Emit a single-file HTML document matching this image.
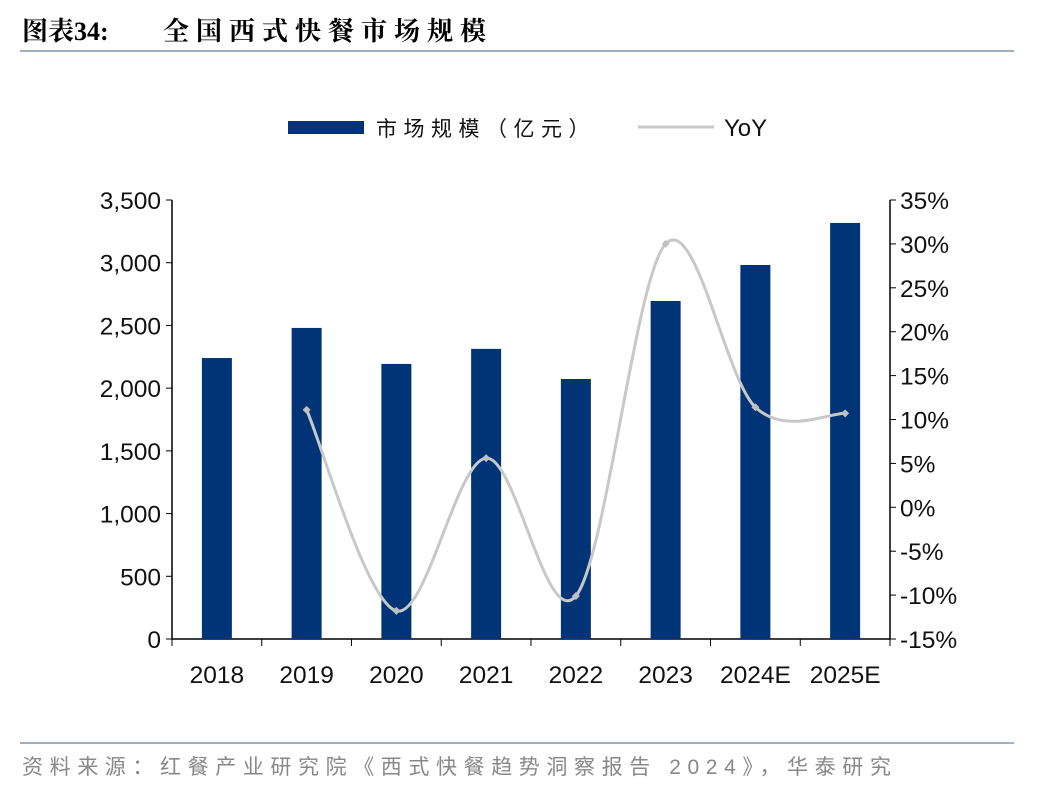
<!DOCTYPE html>
<html><head><meta charset="utf-8"><style>
body{margin:0;background:#fff;width:1048px;height:792px;overflow:hidden;font-family:"Liberation Sans","Noto Sans CJK SC",sans-serif}
</style></head><body>
<svg width="1048" height="792" xmlns="http://www.w3.org/2000/svg">
<text x="22" y="40" font-size="26" font-weight="bold" font-family="'Liberation Serif','Noto Serif CJK SC',serif" fill="#000"><tspan>图表34:</tspan><tspan x="163" letter-spacing="7">全国西式快餐市场规模</tspan></text>
<line x1="20" y1="51" x2="1014" y2="51" stroke="#9fb0c4" stroke-width="2"/>
<g>
<rect x="288" y="121" width="76" height="13" fill="#003477"/>
<text x="376" y="136" font-size="21" letter-spacing="6.5" fill="#111">市场规模（亿元）</text>
<line x1="638" y1="127" x2="714" y2="127" stroke="#c8c8c8" stroke-width="3"/>
<text x="724" y="136" font-size="24" fill="#111">YoY</text>
</g>
<g id="axes"></g><g id="bars"></g><g id="line"></g>
<line x1="20" y1="743" x2="1014" y2="743" stroke="#9fb0c4" stroke-width="2"/>
<text x="22" y="774" font-size="21" fill="#888" letter-spacing="6.6">资料来源：红餐产业研究院《西式快餐趋势洞察报告 2024》，华泰研究</text>
</svg>
<script>
const categories=["2018","2019","2020","2021","2022","2023","2024E","2025E"];
const sizeValues=[2240,2480,2193,2313,2073,2695,2982,3317];
const yoyValues=[null,11.1,-11.8,5.6,-10.1,30.0,11.4,10.7];
const leftTicks=["0","500","1,000","1,500","2,000","2,500","3,000","3,500"];
const rightTicks=["-15%","-10%","-5%","0%","5%","10%","15%","20%","25%","30%","35%"];
const NS="http://www.w3.org/2000/svg";
const X0=172,X1=890,Y0=639,Y1=200;
const band=(X1-X0)/categories.length;
const xc=i=>X0+band*(i+0.5);
const yl=v=>Y0-(v/3500)*(Y0-Y1);
const yr=v=>Y0-((v+15)/50)*(Y0-Y1);
function mk(tag,attrs,parent,txt){const e=document.createElementNS(NS,tag);for(const k in attrs)e.setAttribute(k,attrs[k]);if(txt!=null)e.textContent=txt;document.getElementById(parent).appendChild(e);return e;}
let e;
e=mk('line',{x1:X0,y1:Y1,x2:X0,y2:Y0,stroke:'#000','stroke-width':1.5},'axes');


e=mk('line',{x1:X1,y1:Y1,x2:X1,y2:Y0,stroke:'#000','stroke-width':1.5},'axes');


e=mk('line',{x1:X0,y1:Y0,x2:X1,y2:Y0,stroke:'#000','stroke-width':1.5},'axes');


leftTicks.forEach((t,i)=>{const y=yl(i*500);
mk('line',{x1:X0-6,y1:y,x2:X0,y2:y,stroke:'#000'},'axes');
e=mk('text',{x:X0-11,y:y+9,'font-size':24.5,'text-anchor':'end',fill:'#111'},'axes',t);

});
rightTicks.forEach((t,i)=>{const y=yr(-15+i*5);
mk('line',{x1:X1,y1:y,x2:X1+6,y2:y,stroke:'#000'},'axes');
e=mk('text',{x:X1+10,y:y+9,'font-size':24.5,'text-anchor':'start',fill:'#111'},'axes',t);

});
for(let i=0;i<=categories.length;i++){const x=X0+band*i;mk('line',{x1:x,y1:Y0,x2:x,y2:Y0+7,stroke:'#000'},'axes');}
categories.forEach((c,i)=>{
e=mk('text',{x:xc(i),y:683,'font-size':24.5,'text-anchor':'middle',fill:'#111'},'axes',c);


e=mk('rect',{x:xc(i)-15,y:yl(sizeValues[i]),width:30,height:Y0-yl(sizeValues[i]),fill:'#003477'},'bars');

});
const pts=[];yoyValues.forEach((v,i)=>{if(v!=null)pts.push([xc(i),yr(v)]);});
let d='M'+pts[0][0]+','+pts[0][1];
for(let i=0;i<pts.length-1;i++){const p0=pts[i-1]||pts[i],p1=pts[i],p2=pts[i+1],p3=pts[i+2]||p2;
d+=' C'+(p1[0]+(p2[0]-p0[0])/6)+','+(p1[1]+(p2[1]-p0[1])/6)+' '+(p2[0]-(p3[0]-p1[0])/6)+','+(p2[1]-(p3[1]-p1[1])/6)+' '+p2[0]+','+p2[1];}
e=mk('path',{d:d,fill:'none',stroke:'#c8c8c8','stroke-width':3},'line');


pts.forEach(p=>{e=mk('path',{d:`M${p[0]},${p[1]-4} l4,4 l-4,4 l-4,-4z`,fill:'#c0c0c0'},'line');

});
</script>
</body></html>
